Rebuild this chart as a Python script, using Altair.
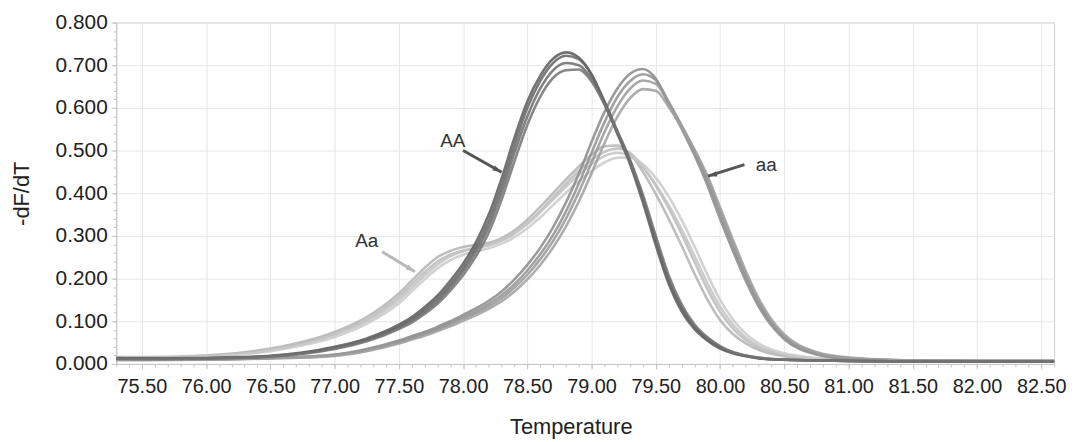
import altair as alt
import pandas as pd

# ---------------- data ----------------
temps = [75.3, 75.5, 76.0, 76.5, 77.0, 77.25, 77.5, 77.6, 77.7, 77.8, 77.9, 78.0,
         78.1, 78.2, 78.3, 78.4, 78.5, 78.6, 78.7, 78.8, 78.9, 79.0, 79.1, 79.2,
         79.3, 79.4, 79.5, 79.6, 79.7, 79.8, 79.9, 80.0, 80.1, 80.2, 80.3, 80.4,
         80.5, 80.75, 81.0, 81.5, 82.0, 82.6]

AA_1 = [0.014, 0.013, 0.014, 0.019, 0.040, 0.060, 0.092, 0.110, 0.133, 0.160, 0.195, 0.235,
        0.285, 0.350, 0.435, 0.530, 0.615, 0.675, 0.715, 0.730, 0.718, 0.678, 0.612, 0.540,
        0.468, 0.378, 0.278, 0.188, 0.124, 0.082, 0.055, 0.036, 0.025, 0.018, 0.013, 0.011,
        0.010, 0.008, 0.007, 0.006, 0.006, 0.006]
AA_2 = [0.013, 0.012, 0.013, 0.018, 0.038, 0.057, 0.088, 0.105, 0.127, 0.153, 0.186, 0.225,
        0.273, 0.335, 0.418, 0.512, 0.600, 0.663, 0.705, 0.722, 0.714, 0.678, 0.616, 0.546,
        0.475, 0.388, 0.288, 0.196, 0.130, 0.086, 0.058, 0.038, 0.026, 0.019, 0.014, 0.011,
        0.010, 0.008, 0.007, 0.006, 0.006, 0.006]
AA_3 = [0.012, 0.012, 0.013, 0.018, 0.037, 0.055, 0.085, 0.101, 0.122, 0.147, 0.179, 0.217,
        0.263, 0.322, 0.402, 0.495, 0.580, 0.645, 0.688, 0.705, 0.700, 0.668, 0.610, 0.543,
        0.474, 0.390, 0.292, 0.200, 0.134, 0.089, 0.060, 0.040, 0.027, 0.019, 0.014, 0.011,
        0.010, 0.008, 0.007, 0.006, 0.006, 0.006]
AA_4 = [0.012, 0.011, 0.012, 0.017, 0.035, 0.053, 0.082, 0.097, 0.117, 0.141, 0.172, 0.208,
        0.252, 0.308, 0.385, 0.475, 0.560, 0.626, 0.670, 0.688, 0.690, 0.662, 0.608, 0.545,
        0.478, 0.396, 0.300, 0.208, 0.140, 0.093, 0.063, 0.042, 0.028, 0.020, 0.015, 0.012,
        0.010, 0.008, 0.007, 0.006, 0.006, 0.006]

aa_1 = [0.010, 0.010, 0.011, 0.014, 0.022, 0.035, 0.055, 0.065, 0.075, 0.087, 0.100, 0.115,
        0.130, 0.148, 0.170, 0.198, 0.232, 0.272, 0.320, 0.378, 0.445, 0.520, 0.590, 0.645,
        0.680, 0.691, 0.668, 0.610, 0.552, 0.490, 0.420, 0.340, 0.265, 0.195, 0.135, 0.090,
        0.058, 0.022, 0.012, 0.008, 0.007, 0.007]
aa_2 = [0.010, 0.010, 0.011, 0.014, 0.021, 0.033, 0.052, 0.062, 0.072, 0.083, 0.096, 0.110,
        0.124, 0.141, 0.161, 0.187, 0.219, 0.257, 0.302, 0.357, 0.422, 0.495, 0.566, 0.625,
        0.663, 0.679, 0.665, 0.614, 0.558, 0.498, 0.430, 0.352, 0.276, 0.204, 0.142, 0.095,
        0.062, 0.024, 0.013, 0.008, 0.007, 0.007]
aa_3 = [0.010, 0.010, 0.011, 0.013, 0.020, 0.032, 0.050, 0.059, 0.069, 0.080, 0.092, 0.106,
        0.119, 0.135, 0.154, 0.179, 0.209, 0.245, 0.288, 0.340, 0.402, 0.472, 0.543, 0.603,
        0.645, 0.664, 0.656, 0.611, 0.559, 0.502, 0.437, 0.360, 0.284, 0.211, 0.148, 0.099,
        0.065, 0.026, 0.014, 0.008, 0.007, 0.007]
aa_4 = [0.009, 0.009, 0.010, 0.013, 0.019, 0.030, 0.048, 0.057, 0.066, 0.077, 0.088, 0.101,
        0.114, 0.129, 0.147, 0.170, 0.198, 0.232, 0.273, 0.322, 0.380, 0.447, 0.517, 0.579,
        0.623, 0.644, 0.640, 0.602, 0.555, 0.503, 0.442, 0.367, 0.291, 0.218, 0.154, 0.104,
        0.069, 0.028, 0.015, 0.008, 0.007, 0.007]

Aa_1 = [0.016, 0.016, 0.020, 0.036, 0.075, 0.110, 0.165, 0.195, 0.225, 0.250, 0.265, 0.274,
        0.279, 0.284, 0.295, 0.313, 0.338, 0.368, 0.400, 0.432, 0.462, 0.490, 0.510, 0.512,
        0.492, 0.450, 0.398, 0.340, 0.278, 0.212, 0.152, 0.103, 0.070, 0.048, 0.033, 0.024,
        0.018, 0.011, 0.008, 0.007, 0.007, 0.007]
Aa_2 = [0.015, 0.015, 0.019, 0.034, 0.071, 0.104, 0.157, 0.186, 0.215, 0.240, 0.256, 0.266,
        0.272, 0.278, 0.289, 0.306, 0.330, 0.358, 0.390, 0.422, 0.452, 0.478, 0.497, 0.505,
        0.494, 0.462, 0.418, 0.365, 0.305, 0.240, 0.176, 0.122, 0.083, 0.056, 0.038, 0.027,
        0.020, 0.012, 0.009, 0.007, 0.007, 0.007]
Aa_3 = [0.014, 0.014, 0.018, 0.032, 0.068, 0.100, 0.150, 0.178, 0.207, 0.233, 0.252, 0.264,
        0.272, 0.279, 0.290, 0.306, 0.328, 0.355, 0.385, 0.415, 0.443, 0.468, 0.487, 0.495,
        0.487, 0.460, 0.420, 0.372, 0.316, 0.254, 0.190, 0.134, 0.092, 0.062, 0.042, 0.030,
        0.022, 0.013, 0.009, 0.007, 0.007, 0.007]
Aa_4 = [0.013, 0.013, 0.017, 0.030, 0.063, 0.094, 0.142, 0.170, 0.198, 0.224, 0.243, 0.256,
        0.264, 0.271, 0.282, 0.297, 0.318, 0.343, 0.372, 0.401, 0.428, 0.452, 0.472, 0.483,
        0.484, 0.468, 0.436, 0.392, 0.338, 0.276, 0.210, 0.150, 0.104, 0.071, 0.048, 0.034,
        0.025, 0.014, 0.010, 0.007, 0.007, 0.007]

x_tick_labels = [75.5, 76.0, 76.5, 77.0, 77.5, 78.0, 78.5, 79.0, 79.5, 80.0, 80.5,
                 81.0, 81.5, 82.0, 82.5]
y_tick_labels = [0.0, 0.1, 0.2, 0.3, 0.4, 0.5, 0.6, 0.7, 0.8]

# annotations (data space)
ann_labels = ["AA", "aa", "Aa"]
ann_text_T = [77.92, 80.36, 77.25]
ann_text_v = [0.523, 0.465, 0.288]
arrow_tail_T = [78.00, 80.19, 77.37]
arrow_tail_v = [0.500, 0.467, 0.263]
arrow_tip_T = [78.30, 79.905, 77.625]
arrow_tip_v = [0.449, 0.440, 0.216]

# ---------------- build tables ----------------
groups = {
    "Aa": {"Aa-1": Aa_1, "Aa-2": Aa_2, "Aa-3": Aa_3, "Aa-4": Aa_4},
    "aa": {"aa-1": aa_1, "aa-2": aa_2, "aa-3": aa_3, "aa-4": aa_4},
    "AA": {"AA-1": AA_1, "AA-2": AA_2, "AA-3": AA_3, "AA-4": AA_4},
}
frames = {}
for g, cs in groups.items():
    rows = []
    for name, vals in cs.items():
        for t, v in zip(temps, vals):
            rows.append({"T": t, "v": v, "curve": name})
    frames[g] = pd.DataFrame(rows)

curve_names = [n for g in groups.values() for n in g]
curve_colors = ["#b3b3b3", "#bbbbbb", "#c3c3c3", "#cacaca",
                "#8a8a8a", "#919191", "#989898", "#9f9f9f",
                "#5a5a5a", "#636363", "#6b6b6b", "#737373"]
color_scale = alt.Scale(domain=curve_names, range=curve_colors)

ann = pd.DataFrame({"label": ann_labels, "T": ann_text_T, "v": ann_text_v,
                    "T0": arrow_tail_T, "v0": arrow_tail_v,
                    "T1": arrow_tip_T, "v1": arrow_tip_v,
                    "ang": [119, 256, 121],
                    "acol": ["#555555", "#555555", "#b8b8b8"]})

xscale = alt.Scale(domain=[75.3, 82.6], nice=False, zero=False)
yscale = alt.Scale(domain=[0, 0.8], nice=False)

FONT = "Liberation Sans"

major_x = alt.Axis(values=x_tick_labels, format=".2f", grid=True, gridColor="#e6e6e6",
                   gridWidth=1, domainColor="#c4c4c4", tickColor="#c4c4c4", tickSize=5,
                   labelFontSize=20, labelColor="#222222", labelPadding=8, labelFont=FONT,
                   labelFlush=False, labelOverlap=False,
                   title="Temperature", titleFont=FONT, titleFontSize=22,
                   titleFontWeight="normal", titleColor="#222222",
                   titleX=458, titleY=70, titleBaseline="alphabetic", titleAlign="center")
major_y = alt.Axis(values=y_tick_labels, format=".3f", grid=True, gridColor="#e6e6e6",
                   gridWidth=1, domainColor="#c4c4c4", tickColor="#c4c4c4", tickSize=5,
                   labelFontSize=21, labelColor="#222222", labelPadding=4, labelFont=FONT,
                   labelFlush=False, labelOverlap=False,
                   title="-dF/dT", titleFont=FONT, titleFontSize=22,
                   titleFontWeight="normal", titleColor="#222222",
                   titleX=-95, titleY=172, titleAngle=270, titleAlign="center",
                   titleBaseline="middle")

minor_x_vals = [round(75.3 + 0.1 * i, 1) for i in range(74)]
minor_y_vals = [round(0.02 * i, 2) for i in range(41)]
minor_x = alt.Axis(values=minor_x_vals, labels=False, grid=False, domain=False,
                   tickColor="#c4c4c4", tickSize=3, title=None, orient="bottom")
minor_y = alt.Axis(values=minor_y_vals, labels=False, grid=False, domain=False,
                   tickColor="#c4c4c4", tickSize=3, title=None, orient="left")


def curve_layer(df, axx, axy):
    return alt.Chart(df).mark_line(strokeWidth=2.6, opacity=0.85, interpolate="monotone").encode(
        x=alt.X("T:Q", scale=xscale, axis=axx),
        y=alt.Y("v:Q", scale=yscale, axis=axy),
        color=alt.Color("curve:N", scale=color_scale, legend=None),
        detail="curve:N",
    )


layer_Aa = curve_layer(frames["Aa"], major_x, major_y)
layer_aa = curve_layer(frames["aa"], None, None)
layer_AA = curve_layer(frames["AA"], None, None)

minor_layer = alt.Chart(frames["Aa"]).mark_point(opacity=0).encode(
    x=alt.X("T:Q", scale=xscale, axis=minor_x),
    y=alt.Y("v:Q", scale=yscale, axis=minor_y),
)

arrows = alt.Chart(ann).mark_rule(strokeWidth=3).encode(
    x=alt.X("T0:Q", scale=xscale, axis=None),
    y=alt.Y("v0:Q", scale=yscale, axis=None),
    x2="T1:Q", y2="v1:Q",
    color=alt.Color("acol:N", scale=None),
)
heads = alt.Chart(ann).mark_point(
    shape="M0,0L0.65,2.2L-0.65,2.2Z", filled=True, size=70, opacity=1, strokeWidth=0
).encode(
    x=alt.X("T1:Q", scale=xscale, axis=None),
    y=alt.Y("v1:Q", scale=yscale, axis=None),
    angle=alt.Angle("ang:Q", scale=None),
    color=alt.Color("acol:N", scale=None),
)
texts = alt.Chart(ann).mark_text(fontSize=19, font=FONT, color="#333333").encode(
    x=alt.X("T:Q", scale=xscale, axis=None),
    y=alt.Y("v:Q", scale=yscale, axis=None),
    text="label:N",
)

chart = alt.layer(layer_Aa, layer_aa, layer_AA, minor_layer, arrows, heads, texts).resolve_axis(
    x="independent", y="independent"
).properties(
    width=945, height=344,
    autosize=alt.AutoSizeParams(type="none"),
    padding={"left": 109, "top": 13, "right": 15, "bottom": 77},
    background="white",
).configure_view(stroke="#cfcfcf", strokeWidth=1)

chart.save("out.html", embed_options={"renderer": "svg", "actions": False})
